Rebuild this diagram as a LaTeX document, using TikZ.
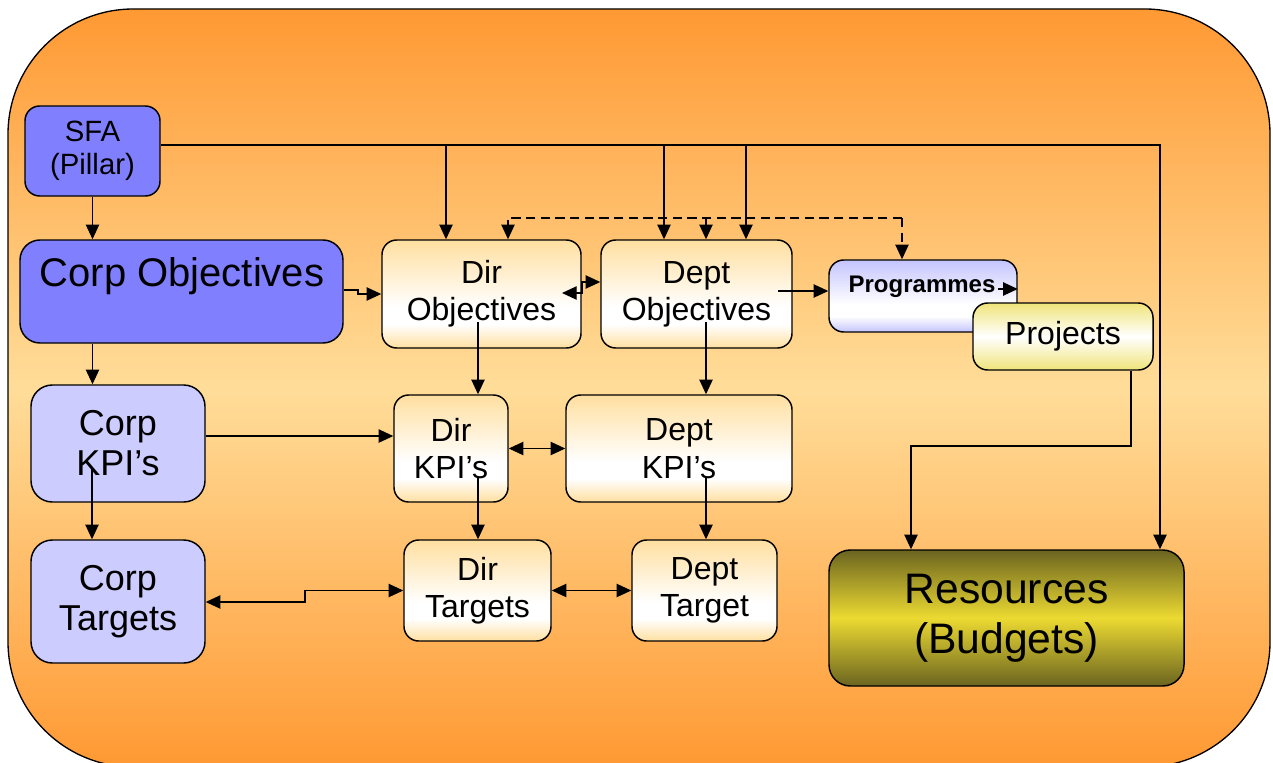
\documentclass[tikz,border=0pt]{standalone}
\usepackage{fontspec}
\setmainfont{Liberation Sans}
\usetikzlibrary{arrows.meta}

\definecolor{bgorange}{HTML}{FF9933}
\definecolor{bglight}{HTML}{FFDD99}
\definecolor{corpblue}{HTML}{8080FF}
\definecolor{corplight}{HTML}{CCCCFF}
\definecolor{cream}{HTML}{FFDFA0}
\definecolor{lav}{HTML}{C4C4FF}
\definecolor{projyel}{HTML}{F0E47A}
\definecolor{olivedark}{HTML}{6B6420}
\definecolor{olivemid}{HTML}{ECDA32}

% light band placed below the middle of the box
\pgfdeclareverticalshading{creamsh}{100bp}{color(0bp)=(cream); color(25bp)=(cream); color(36bp)=(white); color(44bp)=(white); color(75bp)=(cream); color(100bp)=(cream)}
\pgfdeclareverticalshading{lavsh}{100bp}{color(0bp)=(lav); color(25bp)=(lav); color(36bp)=(white); color(44bp)=(white); color(75bp)=(lav); color(100bp)=(lav)}

\tikzset{
  box/.style={draw=black, line width=1.1pt, rounded corners=11pt, inner sep=0pt, align=center},
  creambox/.style={box, shading=creamsh},
  tipa/.tip={Triangle[length=11pt,width=10pt]},
  arr/.style={line width=1pt, -tipa},
  arrtwo/.style={line width=1pt, tipa-tipa},
  txt/.style={font=\fontsize{24}{28}\selectfont},
  bigtxt/.style={font=\fontsize{27}{30}\selectfont},
}

\begin{document}
\begin{tikzpicture}[x=0.75pt,y=-0.75pt]
\useasboundingbox (0,0) rectangle (1273,763);

% background panel
\path[draw=black, line width=1pt, top color=bgorange, bottom color=bgorange, middle color=bglight,
      rounded corners=94pt] (8,9) rectangle (1270,767);

% corporate column
\node[box, fill=corpblue, minimum width=101.25pt, minimum height=67.5pt,
      font=\fontsize{22}{25}\selectfont] (sfa) at (92.5,151) {SFA\\(Pillar)};
\node[box, fill=corpblue, rounded corners=15pt, minimum width=242.25pt, minimum height=77.25pt] (cobj) at (181.5,291.5) {};
\node[font=\fontsize{30}{34}\selectfont, inner sep=0pt] (cobjtxt) at (182,276) {Corp Objectives};
\node[box, fill=corplight, rounded corners=16pt, minimum width=130.5pt, minimum height=87.75pt, bigtxt] (ckpi) at (118,443.5) {Corp\\KPI’s};
\node[box, fill=corplight, rounded corners=16pt, minimum width=130.5pt, minimum height=92.25pt, bigtxt] (ctgt) at (118,601.5) {Corp\\Targets};

% directorate and department columns
\node[creambox, minimum width=149.25pt, minimum height=81pt, txt] (dobj) at (481.5,294) {Dir\\Objectives};
\node[creambox, minimum width=143.25pt, minimum height=81pt, txt] (pobj) at (696.5,294) {Dept\\Objectives};
\node[creambox, minimum width=85.5pt, minimum height=80.25pt, txt] (dkpi) at (451,448.5) {Dir\\KPI’s};
\node[creambox, minimum width=169.5pt, minimum height=80.25pt, txt] (pkpi) at (679,448.5) {Dept\\KPI’s};
\node[creambox, minimum width=110.25pt, minimum height=75.75pt, txt] (dtgt) at (477.5,590.5) {Dir\\Targets};
\node[creambox, minimum width=108.75pt, minimum height=75.75pt, txt] (ptgt) at (704.5,590.5) {Dept\\Target};

% programmes, projects, resources
\node[box, shading=lavsh, minimum width=141pt, minimum height=54pt] (prog) at (923,296) {};
\node[font=\fontsize{18}{21}\selectfont\bfseries, inner sep=0pt] (progtxt) at (922,287) {Programmes};
\node[box, top color=projyel, bottom color=projyel, middle color=white, minimum width=135pt, minimum height=50.25pt, txt] (proj) at (1063,336.5) {Projects};
\node[box, top color=olivedark, bottom color=olivedark, middle color=olivemid, rounded corners=16pt,
      minimum width=266.25pt, minimum height=102pt, font=\fontsize{32}{37.5}\selectfont] (res) at (1006.5,618) {Resources\\(Budgets)};

% SFA bus along the top
\coordinate (bus) at (1160,145);
\coordinate (b1) at (446,145);
\coordinate (b2) at (664,145);
\coordinate (b3) at (746,145);
\draw[arr] ([yshift=4.5pt]sfa.east) -- (bus) -- (bus |- res.north);
\draw[arr] (b1) -- (b1 |- dobj.north);
\draw[arr] (b2) -- (b2 |- pobj.north);
\draw[arr] (b3) -- (b3 |- pobj.north);

% dashed feedback line
\coordinate (d1) at (508,218);
\coordinate (d2) at (706,218);
\coordinate (d3) at (902,218);
\draw[arr, dash pattern=on 7pt off 4pt] (d3) -- (d1) -- (d1 |- dobj.north);
\draw[arr, dash pattern=on 7pt off 4pt] (d2) -- (d2 |- pobj.north);
\draw[arr, dash pattern=on 7pt off 4pt] (d3) -- (d3 |- prog.north);

% corporate column links
\coordinate (k1) at (92,467);
\draw[arr] (sfa.south) -- (sfa.south |- cobj.north);
\draw[arr] (sfa.south |- cobj.south) -- (sfa.south |- ckpi.north);
\draw[arr] (k1) -- (k1 |- ctgt.north);

% objectives row
\coordinate (j1) at (358,290);
\draw[arr] (cobj.east |- j1) -- (j1) |- (dobj.west);
\coordinate (j2) at (582,282);
\coordinate (j2a) at (562,293);
\draw[arrtwo] (j2a) -| (j2) -- (pobj.west |- j2);
\coordinate (j3) at (778,291);
\draw[arr] (j3) -- (prog.west |- j3);
\coordinate (j4) at (998,289);
\draw[arr] (j4) -- (prog.east |- j4);

% objectives to KPIs
\coordinate (j5) at (478,322);
\coordinate (j6) at (706,322);
\draw[arr] (j5) -- (j5 |- dkpi.north);
\draw[arr] (j6) -- (j6 |- pkpi.north);

% KPI row
\draw[arr] ([yshift=5.6pt]ckpi.east) -- ([yshift=5.6pt]ckpi.east -| dkpi.west);
\draw[arrtwo] (dkpi.east) -- (pkpi.west);

% KPIs to targets
\coordinate (j8) at (478,477);
\coordinate (j9) at (706,478);
\draw[arr] (j8) -- (j8 |- dtgt.north);
\draw[arr] (j9) -- (j9 |- ptgt.north);

% targets row
\coordinate (j10) at (305,602);
\draw[arrtwo] (ctgt.east |- j10) -- (j10) |- (dtgt.west);
\draw[arrtwo] (dtgt.east) -- (ptgt.west);

% projects to resources
\coordinate (j11) at (1131,446);
\coordinate (j12) at (911,446);
\draw[arr] (proj.south -| j11) -- (j11) -- (j12) -- (j12 |- res.north);
\end{tikzpicture}
\end{document}
